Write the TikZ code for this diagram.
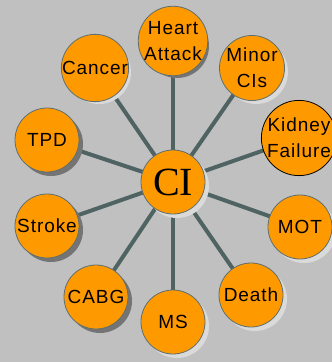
\documentclass[tikz,border=0pt]{standalone}
\usepackage{fontspec}
\setmainfont[LetterSpace=5]{Liberation Sans}
\newfontfamily\cifont{Liberation Serif}
\usetikzlibrary{backgrounds}
\definecolor{bggray}{HTML}{C0C0C0}
\definecolor{ciorange}{HTML}{FF9900}
\definecolor{spoke}{HTML}{4F6363}
\definecolor{rimgray}{HTML}{5F6F6F}
\definecolor{darkshade}{HTML}{747474}
\definecolor{lightshade}{HTML}{DADADA}

\begin{document}
\begin{tikzpicture}[x=1pt,y=-1pt,line width=.8pt,
  every node/.style={font=\fontsize{19}{26}\selectfont},
  bubble/.style={circle,fill=ciorange,draw=rimgray,minimum size=64pt,inner sep=0pt,align=center},
  spokeline/.style={spoke,line width=4pt}]
\useasboundingbox (0,0) rectangle (332,362);
\begin{scope}[on background layer]
\fill[bggray] (0,0) rectangle (332,362);
\end{scope}
\fill[lightshade] (177,186) circle (32);
\fill[darkshade] (177,46) circle (32);
\fill[lightshade] (256,72) circle (32);
\fill[lightshade] (303,142) circle (32);
\fill[lightshade] (304,231) circle (32);
\fill[lightshade] (255,299) circle (32);
\fill[lightshade] (177,326) circle (32);
\fill[darkshade] (100,301) circle (32);
\fill[darkshade] (51,230) circle (32);
\fill[darkshade] (51,144) circle (32);
\fill[lightshade] (99,72) circle (32);
\node[bubble,font=\cifont\fontsize{40}{40}\selectfont] (ci) at (173,182) {CI};
\node[bubble] (heart) at (173,41) {Heart\\Attack};
\node[bubble] (minor) at (252,68) {Minor\\CIs};
\node[bubble,draw=black] (kidney) at (299,138) {Kidney\\Failure};
\node[bubble] (mot) at (300,227) {MOT};
\node[bubble] (death) at (251,295) {Death};
\node[bubble] (ms) at (173,322) {MS};
\node[bubble] (cabg) at (96,297) {CABG};
\node[bubble] (stroke) at (47,226) {Stroke};
\node[bubble] (tpd) at (47,140) {TPD};
\node[bubble] (cancer) at (95,68) {Cancer};
\begin{scope}[on background layer]
\draw[spokeline] (ci.center)--(heart.center);
\draw[spokeline] (ci.center)--(minor.center);
\draw[spokeline] (ci.center)--(kidney.center);
\draw[spokeline] (ci.center)--(mot.center);
\draw[spokeline] (ci.center)--(death.center);
\draw[spokeline] (ci.center)--(ms.center);
\draw[spokeline] (ci.center)--(cabg.center);
\draw[spokeline] (ci.center)--(stroke.center);
\draw[spokeline] (ci.center)--(tpd.center);
\draw[spokeline] (ci.center)--(cancer.center);
\end{scope}
\end{tikzpicture}
\end{document}
